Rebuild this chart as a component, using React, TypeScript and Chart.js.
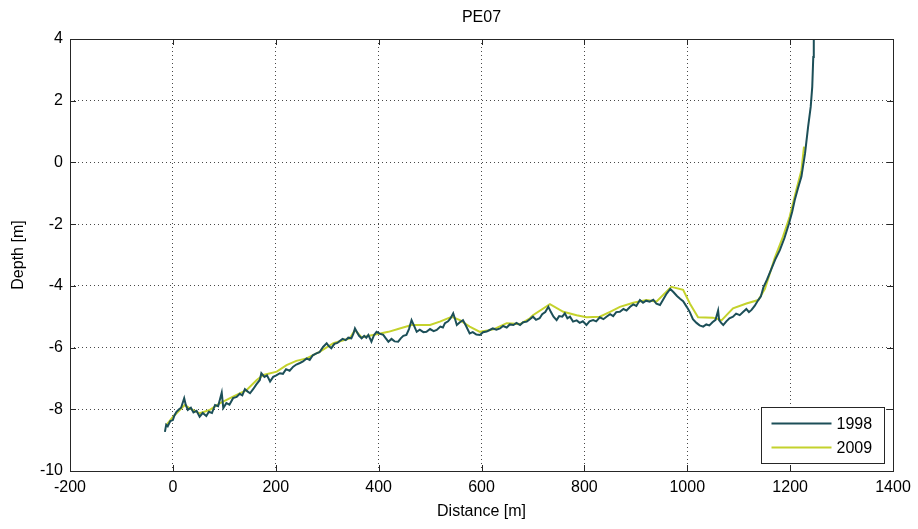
import React, { useEffect, useRef } from "react";
import { Chart, registerables } from "chart.js";

Chart.register(...registerables);

const titleText = "PE07";
const xAxisTitle = "Distance [m]";
const yAxisTitle = "Depth [m]";
const seriesLabels = ["1998", "2009"];
const seriesColors = ["#1c4f58", "#c4d22c"];

const xMin = -200, xMax = 1400, xStep = 200;
const yMin = -10, yMax = 4, yStep = 2;

const x1998 = [
  -15.5, -13, -10, -5, 0, 3, 7, 12, 16, 22, 25, 29, 35, 40, 46, 52, 58, 65, 70, 76,
  82, 88, 95, 98, 104, 110, 117, 124, 130, 135, 140, 145, 150, 156, 162, 169, 172, 178, 183, 189,
  195, 201, 208, 214, 220, 227, 234, 240, 247, 253, 260, 266, 272, 279, 285, 292, 299, 303, 308, 314,
  320, 325, 330, 336, 341, 347, 351, 354, 358, 362, 367, 372, 376, 380, 386, 391, 396, 402, 409, 414,
  419, 425, 431, 438, 443, 448, 454, 459, 464, 469, 474, 480, 487, 493, 500, 507, 513, 520, 525, 529,
  535, 540, 545, 549, 552, 558, 564, 570, 577, 583, 590, 597, 603, 610, 616, 622, 629, 636, 642, 649,
  655, 662, 668, 675, 681, 688, 694, 700, 706, 713, 718, 724, 730, 735, 740, 746, 751, 757, 762, 767,
  772, 778, 785, 791, 797, 804, 810, 817, 823, 830, 837, 843, 850, 856, 862, 869, 876, 882, 889, 895,
  901, 908, 914, 920, 927, 934, 940, 947, 953, 960, 967, 973, 980, 986, 992, 999, 1005, 1011, 1018, 1024,
  1031, 1037, 1043, 1049, 1055, 1060, 1062, 1066, 1070, 1076, 1082, 1089, 1095, 1102, 1109, 1115, 1120, 1125, 1131, 1138,
  1143, 1148, 1155, 1163, 1171, 1180, 1189, 1198, 1204, 1209, 1215, 1222, 1229, 1235, 1240, 1243, 1245, 1246, 1248,
];
const y1998 = [
  -8.73, -8.5, -8.55, -8.38, -8.35, -8.2, -8.08, -8.0, -7.95, -7.64, -7.85, -8.02, -7.95, -8.1, -8.05, -8.24, -8.12, -8.22, -8.08, -8.12,
  -7.86, -7.9, -7.46, -7.96, -7.8, -7.85, -7.64, -7.6, -7.5, -7.55, -7.35, -7.42, -7.48, -7.35, -7.2, -7.05, -6.83, -6.95, -6.9, -7.1,
  -6.95, -6.9, -6.83, -6.85, -6.7, -6.75, -6.62, -6.55, -6.5, -6.45, -6.35, -6.4, -6.25, -6.19, -6.15, -5.98, -5.86, -5.95, -6.02, -5.88,
  -5.85, -5.78, -5.72, -5.76, -5.68, -5.7, -5.55, -5.38, -5.5, -5.62, -5.7, -5.62, -5.68, -5.59, -5.81, -5.6, -5.49, -5.55, -5.59, -5.7,
  -5.81, -5.72, -5.8, -5.81, -5.7, -5.62, -5.59, -5.4, -5.11, -5.3, -5.49, -5.42, -5.5, -5.49, -5.4, -5.47, -5.43, -5.32, -5.35, -5.21,
  -5.15, -5.05, -4.89, -5.1, -5.27, -5.18, -5.11, -5.3, -5.54, -5.5, -5.58, -5.59, -5.5, -5.48, -5.43, -5.38, -5.42, -5.38, -5.3, -5.35,
  -5.25, -5.27, -5.2, -5.27, -5.18, -5.16, -5.08, -5.0, -5.1, -5.05, -4.92, -4.85, -4.68, -4.85, -5.0, -5.11, -4.98, -5.0, -4.89, -5.05,
  -5.0, -5.16, -5.12, -5.2, -5.15, -5.27, -5.15, -5.11, -5.15, -5.02, -5.08, -5.0, -4.92, -4.98, -4.85, -4.84, -4.75, -4.8, -4.68, -4.6,
  -4.65, -4.46, -4.55, -4.48, -4.51, -4.45, -4.58, -4.62, -4.45, -4.25, -4.1, -4.2, -4.33, -4.42, -4.5, -4.68, -4.85, -5.08, -5.2, -5.28,
  -5.32, -5.25, -5.28, -5.18, -5.1, -4.8, -5.11, -5.2, -5.27, -5.15, -5.05, -5.0, -4.9, -4.95, -4.84, -4.75, -4.85, -4.78, -4.65, -4.46,
  -4.35, -4.05, -3.8, -3.47, -3.15, -2.84, -2.45, -1.97, -1.6, -1.22, -0.85, -0.46, 0.29, 1.16, 1.8, 2.45, 3.42, 3.97, 4.5,
];

const x2009 = [
  -12, 0, 23, 33, 52, 72, 91, 117, 143, 163, 176, 202, 221, 240, 260, 286, 312, 344, 354, 367,
  389, 419, 441, 464, 500, 519, 542, 558, 577, 597, 623, 649, 675, 694, 700, 733, 759, 785, 804, 830,
  850, 869, 895, 921, 940, 969, 992, 1005, 1021, 1050, 1067, 1089, 1115, 1138, 1151, 1170, 1186, 1199, 1212, 1222,
  1227,
];
const y2009 = [
  -8.5, -8.25, -7.86, -7.97, -8.13, -8.02, -7.81, -7.59, -7.38, -7.05, -6.89, -6.78, -6.57, -6.43, -6.35, -6.13, -5.86, -5.7, -5.43, -5.67,
  -5.59, -5.49, -5.38, -5.27, -5.27, -5.16, -5.0, -5.11, -5.32, -5.49, -5.41, -5.21, -5.24, -5.05, -4.95, -4.59, -4.84, -4.95, -5.02, -5.0,
  -4.84, -4.68, -4.55, -4.46, -4.51, -4.03, -4.13, -4.57, -5.02, -5.03, -5.11, -4.73, -4.57, -4.46, -4.1, -3.1, -2.41, -1.76, -0.89, -0.25,
  0.51,
];

const FONT = "'Liberation Sans', Arial, Helvetica, sans-serif";

const decorPlugin = {
  id: "matlabDecor",
  afterDraw(chart: any) {
    const ctx = chart.ctx;
    const a = chart.chartArea;
    const xs = chart.scales.x;
    const ys = chart.scales.y;
    ctx.save();
    ctx.strokeStyle = "#262626";
    ctx.lineWidth = 1;
    ctx.strokeRect(Math.round(a.left) + 0.5, Math.round(a.top) + 0.5, Math.round(a.right - a.left), Math.round(a.bottom - a.top));
    const tl = 6;
    ctx.beginPath();
    for (let v = xMin; v <= xMax; v += xStep) {
      const px = Math.round(xs.getPixelForValue(v)) + 0.5;
      ctx.moveTo(px, a.bottom);
      ctx.lineTo(px, a.bottom - tl);
      ctx.moveTo(px, a.top);
      ctx.lineTo(px, a.top + tl);
    }
    for (let v = yMin; v <= yMax; v += yStep) {
      const py = Math.round(ys.getPixelForValue(v)) + 0.5;
      ctx.moveTo(a.left, py);
      ctx.lineTo(a.left + tl, py);
      ctx.moveTo(a.right, py);
      ctx.lineTo(a.right - tl, py);
    }
    ctx.stroke();

    ctx.fillStyle = "#000";
    ctx.font = `16px ${FONT}`;
    ctx.textAlign = "center";
    ctx.textBaseline = "middle";
    const cx = (a.left + a.right) / 2;
    ctx.fillText(titleText, cx, 18);
    ctx.fillText(xAxisTitle, cx, a.bottom + 41);
    ctx.save();
    ctx.translate(19, (a.top + a.bottom) / 2);
    ctx.rotate(-Math.PI / 2);
    ctx.fillText(yAxisTitle, 0, 0);
    ctx.restore();

    const bw = 123, bh = 56;
    const bx = Math.round(a.right - 9 - bw) + 0.5;
    const by = Math.round(a.bottom - 8 - bh) + 0.5;
    ctx.fillStyle = "#fff";
    ctx.fillRect(bx, by, bw, bh);
    ctx.strokeStyle = "#262626";
    ctx.lineWidth = 1;
    ctx.strokeRect(bx, by, bw, bh);
    ctx.textAlign = "left";
    ctx.font = `16px ${FONT}`;
    chart.data.datasets.forEach((ds: any, i: number) => {
      const ly = by + 16 + i * 24;
      ctx.strokeStyle = ds.borderColor;
      ctx.lineWidth = 2;
      ctx.beginPath();
      ctx.moveTo(bx + 10, ly);
      ctx.lineTo(bx + 70, ly);
      ctx.stroke();
      ctx.fillStyle = "#000";
      ctx.fillText(ds.label, bx + 75, ly + 1);
    });
    ctx.restore();
  },
};

export default function App() {
  const ref = useRef<HTMLCanvasElement | null>(null);
  useEffect(() => {
    if (!ref.current) return;
    const chart = new Chart(ref.current, {
      type: "line",
      data: {
        datasets: [
          {
            label: seriesLabels[0],
            data: x1998.map((x, i) => ({ x, y: y1998[i] })),
            borderColor: seriesColors[0],
            borderWidth: 2,
            pointRadius: 0,
            tension: 0,
            fill: false,
          },
          {
            label: seriesLabels[1],
            data: x2009.map((x, i) => ({ x, y: y2009[i] })),
            borderColor: seriesColors[1],
            borderWidth: 2,
            pointRadius: 0,
            tension: 0,
            fill: false,
          },
        ],
      },
      options: {
        responsive: false,
        animation: false,
        events: [],
        layout: { padding: { top: 39, right: 25, left: 0, bottom: 0 } },
        plugins: { legend: { display: false }, title: { display: false }, tooltip: { enabled: false } },
        scales: {
          x: {
            type: "linear",
            min: xMin,
            max: xMax,
            afterFit: (s: any) => { s.height = 58; },
            ticks: { stepSize: xStep, color: "#000", padding: 7, font: { family: FONT, size: 16 }, maxRotation: 0, callback: (v: any) => String(v) },
            grid: { color: "rgba(40,40,40,0.85)", lineWidth: 1, drawTicks: false },
            border: { display: false, dash: [1, 3] },
          },
          y: {
            type: "linear",
            min: yMin,
            max: yMax,
            afterFit: (s: any) => { s.width = 70; },
            ticks: { stepSize: yStep, color: "#000", padding: 7, font: { family: FONT, size: 16 }, callback: (v: any) => String(v) },
            grid: { color: "rgba(40,40,40,0.85)", lineWidth: 1, drawTicks: false },
            border: { display: false, dash: [1, 3] },
          },
        },
      },
      plugins: [decorPlugin],
    } as any);
    return () => chart.destroy();
  }, []);
  return (
    <div style={{ position: "fixed", left: 0, top: 0, width: 918, height: 529, background: "#fff" }}>
      <canvas ref={ref} width={918} height={529} style={{ display: "block", width: 918, height: 529 }} />
    </div>
  );
}
